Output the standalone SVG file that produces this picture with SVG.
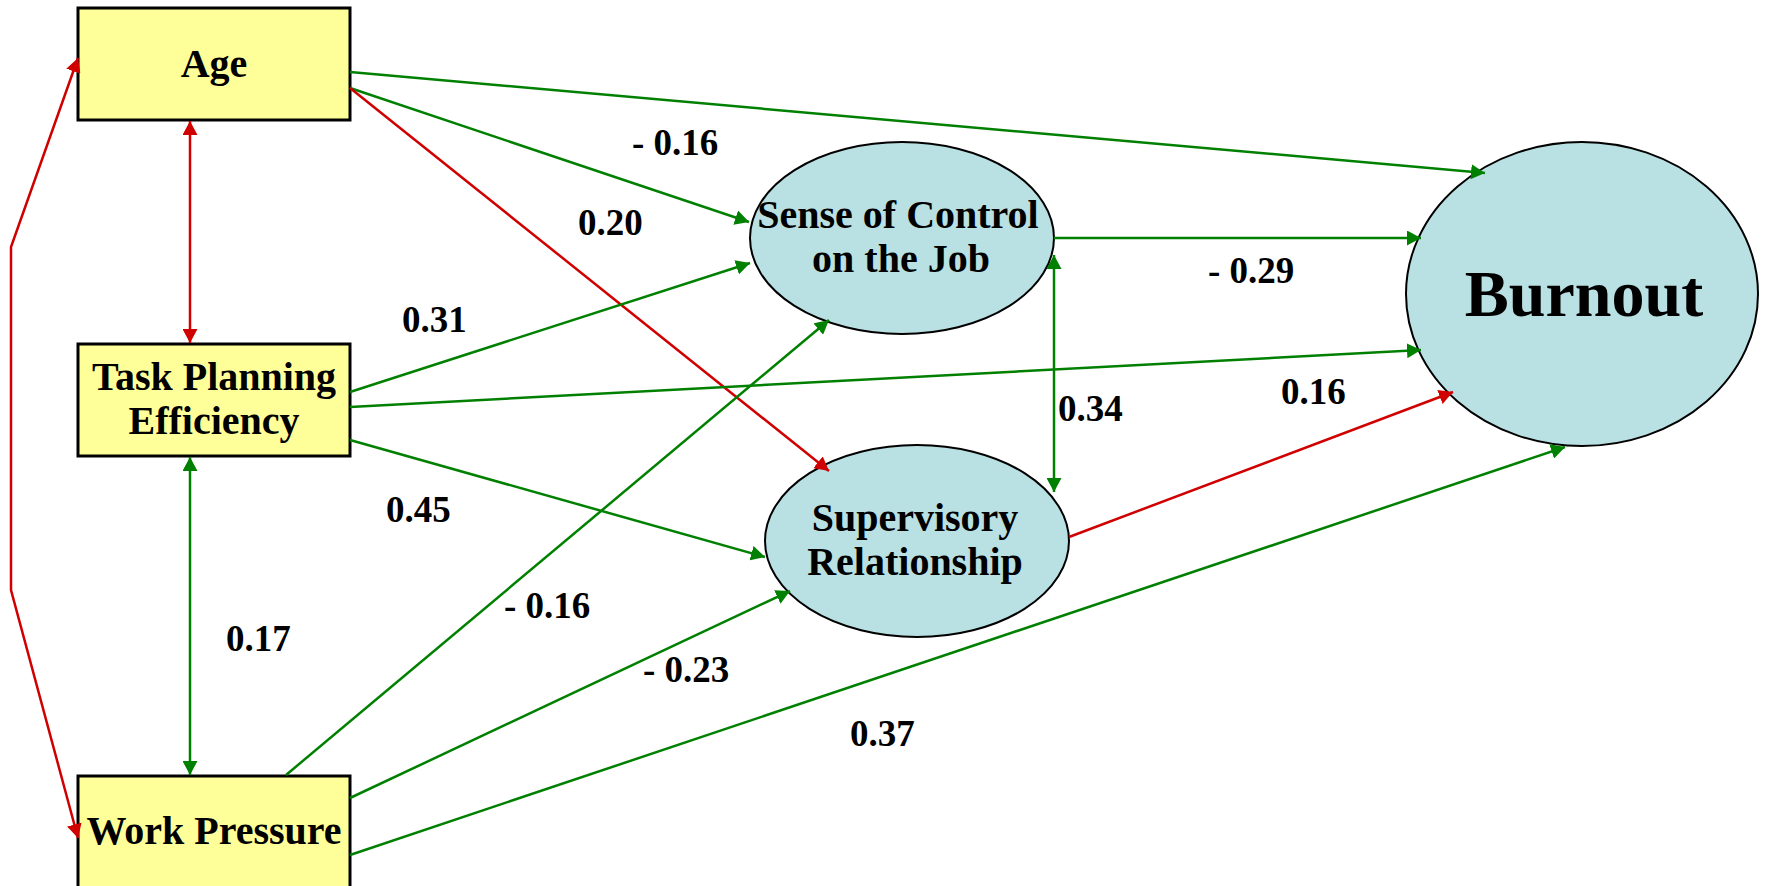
<svg xmlns="http://www.w3.org/2000/svg" width="1765" height="886" viewBox="0 0 1765 886">
<style>
.box{fill:#ffff99;stroke:#000;stroke-width:3}
.ell{fill:#b9e0e3;stroke:#000;stroke-width:2}
.t{font-family:"Liberation Serif","Times New Roman",serif;font-weight:bold;font-size:40px;fill:#000;text-anchor:middle}
.big{font-size:66px}
.lbl{font-family:"Liberation Serif","Times New Roman",serif;font-weight:bold;font-size:37px;fill:#000}
.g{stroke:#008000;stroke-width:2.5;fill:none}
.r{stroke:#d00000;stroke-width:2.5;fill:none}
.g1{marker-end:url(#ag)}
.r1{marker-end:url(#ar)}
.g2{marker-start:url(#ag);marker-end:url(#ag)}
.r2{marker-start:url(#ar);marker-end:url(#ar)}
</style>
<defs>
<marker id="ag" markerUnits="userSpaceOnUse" markerWidth="15" markerHeight="15" refX="14" refY="7.5" orient="auto-start-reverse"><path d="M0,0 L14,7.5 L0,15 z" fill="#008000"/></marker>
<marker id="ar" markerUnits="userSpaceOnUse" markerWidth="15" markerHeight="15" refX="14" refY="7.5" orient="auto-start-reverse"><path d="M0,0 L14,7.5 L0,15 z" fill="#d00000"/></marker>
</defs>
<rect width="1765" height="886" fill="#fff"/>
<g id="age"><rect class="box" x="78" y="8" width="272" height="112"/><text class="t" x="214" y="77">Age</text></g>
<g id="tpe"><rect class="box" x="78" y="344" width="272" height="112"/><text class="t" x="214" y="390">Task Planning</text><text class="t" x="214" y="434">Efficiency</text></g>
<g id="wp"><rect class="box" x="78" y="776" width="272" height="120"/><text class="t" x="214" y="844">Work Pressure</text></g>
<g id="sense"><ellipse class="ell" cx="902" cy="238" rx="152" ry="96"/><text class="t" x="898" y="228">Sense of Control</text><text class="t" x="901" y="272">on the Job</text></g>
<g id="sup"><ellipse class="ell" cx="917" cy="541" rx="152" ry="96"/><text class="t" x="915" y="531">Supervisory</text><text class="t" x="915" y="575">Relationship</text></g>
<g id="burnout"><ellipse class="ell" cx="1582" cy="294" rx="176" ry="152"/><text class="t big" x="1584" y="316">Burnout</text></g>
<g id="connectors">
<line class="r r2" x1="190" y1="121" x2="190" y2="343"/>
<polyline class="r r2" points="78,58 11,247 11,590 78,838"/>
<line class="g g2" x1="190" y1="457" x2="190" y2="775"/>
<line class="g g1" x1="350" y1="72" x2="1485" y2="173"/>
<line class="g g1" x1="350" y1="88" x2="749" y2="222"/>
<line class="r r1" x1="350" y1="88" x2="829" y2="471"/>
<line class="g g1" x1="350" y1="392" x2="750" y2="263"/>
<line class="g g1" x1="350" y1="407" x2="1421" y2="350"/>
<line class="g g1" x1="350" y1="440" x2="765" y2="557"/>
<line class="g g1" x1="286" y1="775" x2="829" y2="320"/>
<line class="g g1" x1="350" y1="798" x2="790" y2="591"/>
<line class="g g1" x1="350" y1="855" x2="1565" y2="447"/>
<line class="g g1" x1="1054" y1="238" x2="1421" y2="238"/>
<line class="g g2" x1="1054" y1="255" x2="1054" y2="492"/>
<line class="r r1" x1="1069" y1="537" x2="1453" y2="392"/>
</g>
<g id="labels">
<text class="lbl" x="632" y="155">- 0.16</text>
<text class="lbl" x="578" y="235">0.20</text>
<text class="lbl" x="402" y="332">0.31</text>
<text class="lbl" x="1208" y="283">- 0.29</text>
<text class="lbl" x="1058" y="421">0.34</text>
<text class="lbl" x="1281" y="404">0.16</text>
<text class="lbl" x="386" y="522">0.45</text>
<text class="lbl" x="504" y="618">- 0.16</text>
<text class="lbl" x="643" y="682">- 0.23</text>
<text class="lbl" x="850" y="746">0.37</text>
<text class="lbl" x="226" y="651">0.17</text>
</g>
</svg>
